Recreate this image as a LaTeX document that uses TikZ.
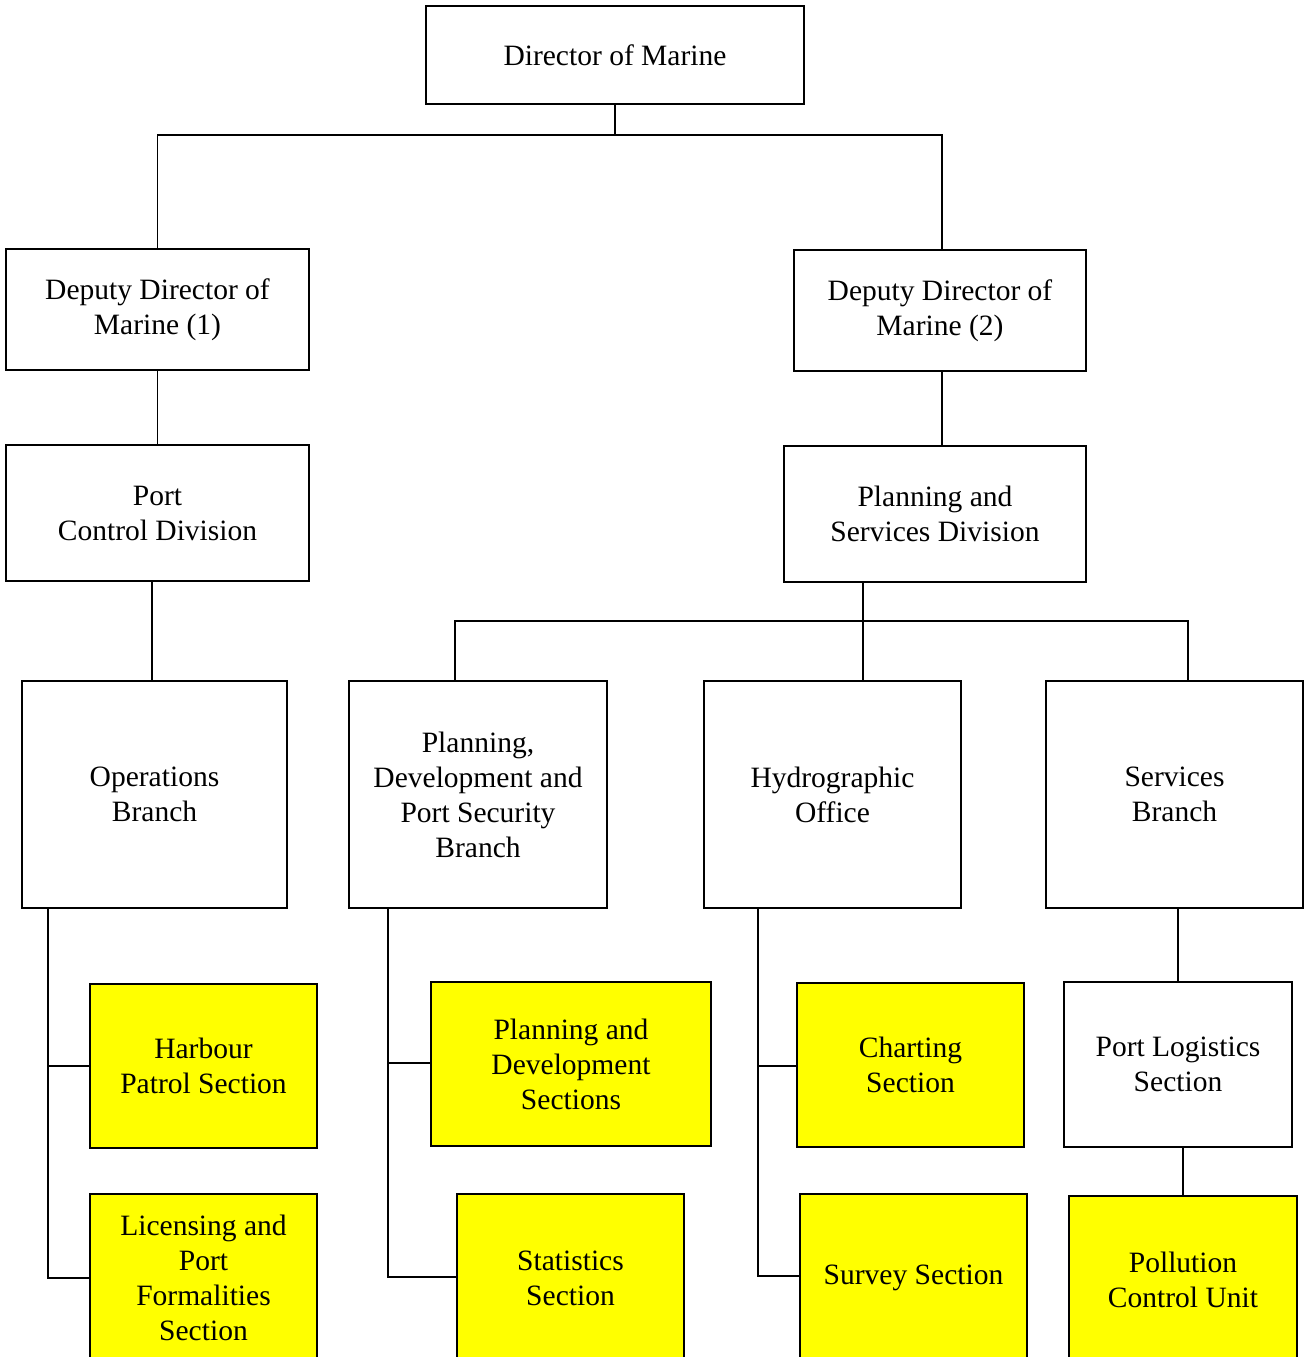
\documentclass[tikz,border=0pt]{standalone}
\usepackage{fontspec}
\setmainfont{Liberation Serif}
\definecolor{hiyellow}{RGB}{255,255,0}
\begin{document}
\begin{tikzpicture}[x = 0.02cm, y = -0.02cm,
		box/.style = {draw, line width=1pt, align=center, inner sep=0pt, font=\fontsize{16.8}{19.9}\selectfont},
		hilite/.style = {box, fill=hiyellow},
		link/.style = {draw, line width=1pt}]
		\useasboundingbox (0,0) rectangle (1308,1357);
		\node [box, minimum width=7.56cm, minimum height=1.96cm] (dir) at (615,55) {Director of Marine};
		\node [box, minimum width=6.06cm, minimum height=2.42cm] (dd1) at (157.5,309.5) {Deputy Director of\\Marine (1)};
		\node [box, minimum width=5.84cm, minimum height=2.42cm] (dd2) at (940,310.5) {Deputy Director of\\Marine (2)};
		\node [box, minimum width=6.06cm, minimum height=2.72cm] (pcd) at (157.5,513) {Port\\Control Division};
		\node [box, minimum width=6.04cm, minimum height=2.72cm] (psd) at (935,514) {Planning and\\Services Division};
		\node [box, minimum width=5.30cm, minimum height=4.54cm] (ops) at (154.5,794.5) {Operations\\Branch};
		\node [box, minimum width=5.16cm, minimum height=4.54cm] (pdb) at (478,794.5) {Planning,\\Development and\\Port Security\\Branch};
		\node [box, minimum width=5.14cm, minimum height=4.54cm] (hyd) at (832.5,794.5) {Hydrographic\\Office};
		\node [box, minimum width=5.14cm, minimum height=4.54cm] (srv) at (1174.5,794.5) {Services\\Branch};
		\node [hilite, minimum width=4.54cm, minimum height=3.28cm] (hps) at (203.5,1066) {Harbour\\Patrol Section};
		\node [hilite, minimum width=4.54cm, minimum height=3.36cm] (lic) at (203.5,1278) {Licensing and\\Port\\Formalities\\Section};
		\node [hilite, minimum width=5.60cm, minimum height=3.28cm] (pds) at (571,1064) {Planning and\\Development\\Sections};
		\node [hilite, minimum width=4.54cm, minimum height=3.36cm] (sts) at (570.5,1278) {Statistics\\Section};
		\node [hilite, minimum width=4.54cm, minimum height=3.28cm] (chs) at (910.5,1065) {Charting\\Section};
		\node [hilite, minimum width=4.54cm, minimum height=3.36cm] (svs) at (913.5,1278) {Survey Section};
		\node [box, minimum width=4.56cm, minimum height=3.30cm] (pls) at (1178,1064.5) {Port Logistics\\Section};
		\node [hilite, minimum width=4.56cm, minimum height=3.36cm] (pcu) at (1183,1280) {Pollution\\Control Unit};
		\coordinate (topbus) at (615,135);
		\coordinate (busl) at (455,621);
		\coordinate (busm) at (863,621);
		\coordinate (busr) at (1188,621);
		\coordinate (opst) at (48,1278);
		\coordinate (pdbt) at (388,1277);
		\coordinate (hydt) at (758,1276);
		\path [link] (dir.south) -- (topbus) -| (dd1.north);
		\path [link] (topbus) -| (dd2.north -| 942,0);
		\path [link] (dd1.south) -- (pcd.north);
		\path [link] (pcd.south -| 152,0) -- (ops.north -| 152,0);
		\path [link] (dd2.south -| 942,0) -- (psd.north -| 942,0);
		\path [link] (psd.south -| busm) -- (hyd.north -| busm);
		\path [link] (pdb.north -| busl) -- (busl) -- (busr) -- (srv.north -| busr);
		\path [link] (ops.south -| opst) -- (opst) -- (lic.west |- opst);
		\path [link] (hps.west) -- (hps.west -| opst);
		\path [link] (pdb.south -| pdbt) -- (pdbt) -- (sts.west |- pdbt);
		\path [link] (pds.west |- 0,1063) -- (pdbt |- 0,1063);
		\path [link] (hyd.south -| hydt) -- (hydt) -- (svs.west |- hydt);
		\path [link] (chs.west |- 0,1066) -- (hydt |- 0,1066);
		\path [link] (srv.south -| pls.north) -- (pls.north);
		\path [link] (pls.south -| pcu.north) -- (pcu.north);
	\end{tikzpicture}
\end{document}
